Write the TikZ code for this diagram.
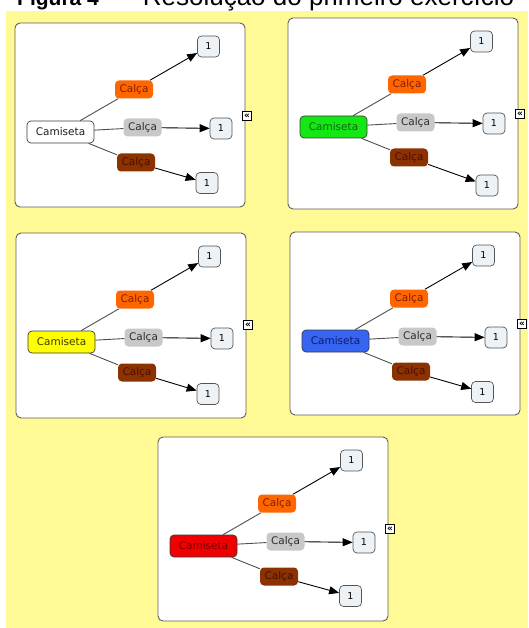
\documentclass[tikz,border=0pt]{standalone}
\usepackage{fontspec}
\setmainfont{DejaVu Sans}
\newfontfamily\titlefont{Liberation Sans}
\usetikzlibrary{arrows.meta}
\definecolor{bgyellow}{RGB}{255,249,150}
\definecolor{panelborder}{RGB}{95,95,85}
\definecolor{camborder}{RGB}{60,60,60}
\definecolor{orangefill}{RGB}{255,102,0}
\definecolor{orangetext}{RGB}{130,30,0}
\definecolor{greyfill}{RGB}{200,200,200}
\definecolor{greytext}{RGB}{45,45,45}
\definecolor{brownfill}{RGB}{140,50,0}
\definecolor{browntext}{RGB}{75,15,0}
\definecolor{onefill}{RGB}{237,242,246}
\definecolor{oneborder}{RGB}{85,85,85}
\definecolor{linkgrey}{RGB}{80,80,80}
\definecolor{camgreen}{RGB}{20,232,20}
\definecolor{camgreentext}{RGB}{20,100,20}
\definecolor{camyellow}{RGB}{255,255,0}
\definecolor{camyellowtext}{RGB}{60,60,0}
\definecolor{camblue}{RGB}{55,100,240}
\definecolor{cambluetext}{RGB}{10,30,110}
\definecolor{camred}{RGB}{240,0,0}
\definecolor{camredtext}{RGB}{110,0,0}
\definecolor{camwhitetext}{RGB}{30,30,30}
\tikzset{
  panelbox/.style={draw=panelborder, fill=white, rounded corners=5pt, line width=0.9pt},
  camnode/.style 2 args={rectangle, rounded corners=4pt, draw=camborder, line width=0.7pt,
    fill=#1, text=#2, minimum width=67pt, minimum height=22pt, inner sep=0pt,
    font=\fontsize{10.5}{12}\selectfont},
  calca/.style 2 args={rectangle, rounded corners=4pt, fill=#1, text=#2,
    minimum width=38pt, minimum height=18pt, inner sep=0pt, font=\fontsize{10.5}{12}\selectfont},
  onenode/.style={rectangle, rounded corners=4pt, draw=oneborder, fill=onefill, line width=0.7pt,
    minimum width=22pt, minimum height=21pt, inner sep=0pt, font=\fontsize{9.5}{11}\selectfont},
  link/.style={draw=linkgrey, line width=0.9pt},
  arr/.style={draw=black, line width=0.9pt, -{Triangle[length=10pt,width=8pt]}},
  iconnode/.style={draw=black, fill=white, line width=0.6pt, inner sep=0pt,
    minimum size=9pt, font=\bfseries\fontsize{9}{9}\selectfont},
}
% #1 prefix, #2 x, #3 y, #4 height, #5 fill, #6 text, #7/#8 lower "1", #9 icon y
\newcommand{\mappanel}[9]{%
  \begin{scope}[shift={(#2,#3)}]
    \draw[panelbox] (0,0) rectangle (230,#4);
    \node[camnode={#5}{#6}] (#1cam) at (45.5,109) {Camiseta};
    \node[calca={orangefill}{orangetext}] (#1o) at (119,66.5) {Calça};
    \node[calca={greyfill}{greytext}] (#1g) at (127.5,104.5) {Calça};
    \node[calca={brownfill}{browntext}] (#1b) at (121,139.5) {Calça};
    \node[onenode] (#1t) at (193.5,23.5) {1};
    \node[onenode] (#1m) at (206,105.5) {1};
    \node[onenode] (#1d) at (#7,#8) {1};
    \node[iconnode] (#1i) at (232,#9) {«};
    \draw[link] (#1cam) -- (#1o);
    \draw[link] (#1cam) -- (#1g);
    \draw[link] (#1cam) -- (#1b);
    \draw[arr] (#1o) -- (#1t);
    \draw[arr] (#1g) -- (#1m);
    \draw[arr] (#1b) -- (#1d);
  \end{scope}%
}
\begin{document}
\begin{tikzpicture}[x=1pt,y=-1pt]
  \useasboundingbox (0,0) rectangle (528,628);
  \fill[white] (0,0) rectangle (528,628);
  \fill[bgyellow] (6,11) rectangle (528,628);
  \begin{scope}
    \clip (0,0) rectangle (528,628);
    \node[anchor=base west, inner sep=0pt, font=\titlefont\bfseries\fontsize{21}{23}\selectfont] (t1) at (17,5.5) {Figura 4};
    \node[anchor=base west, inner sep=0pt, font=\titlefont\fontsize{26}{28}\selectfont] (t2) at (121,5.5) {– Resolução do primeiro exercício};
  \end{scope}
  \mappanel{pa}{15}{23}{184}{white}{camwhitetext}{192}{160}{93}
  \mappanel{pb}{288}{18}{191}{camgreen}{camgreentext}{199}{167.5}{96}
  \mappanel{pc}{16}{233}{185}{camyellow}{camyellowtext}{192}{161}{92}
  \mappanel{pd}{290}{232}{183}{camblue}{cambluetext}{192.5}{160}{92}
  \mappanel{pe}{158}{437}{184}{camred}{camredtext}{192.5}{159}{92}
\end{tikzpicture}
\end{document}
